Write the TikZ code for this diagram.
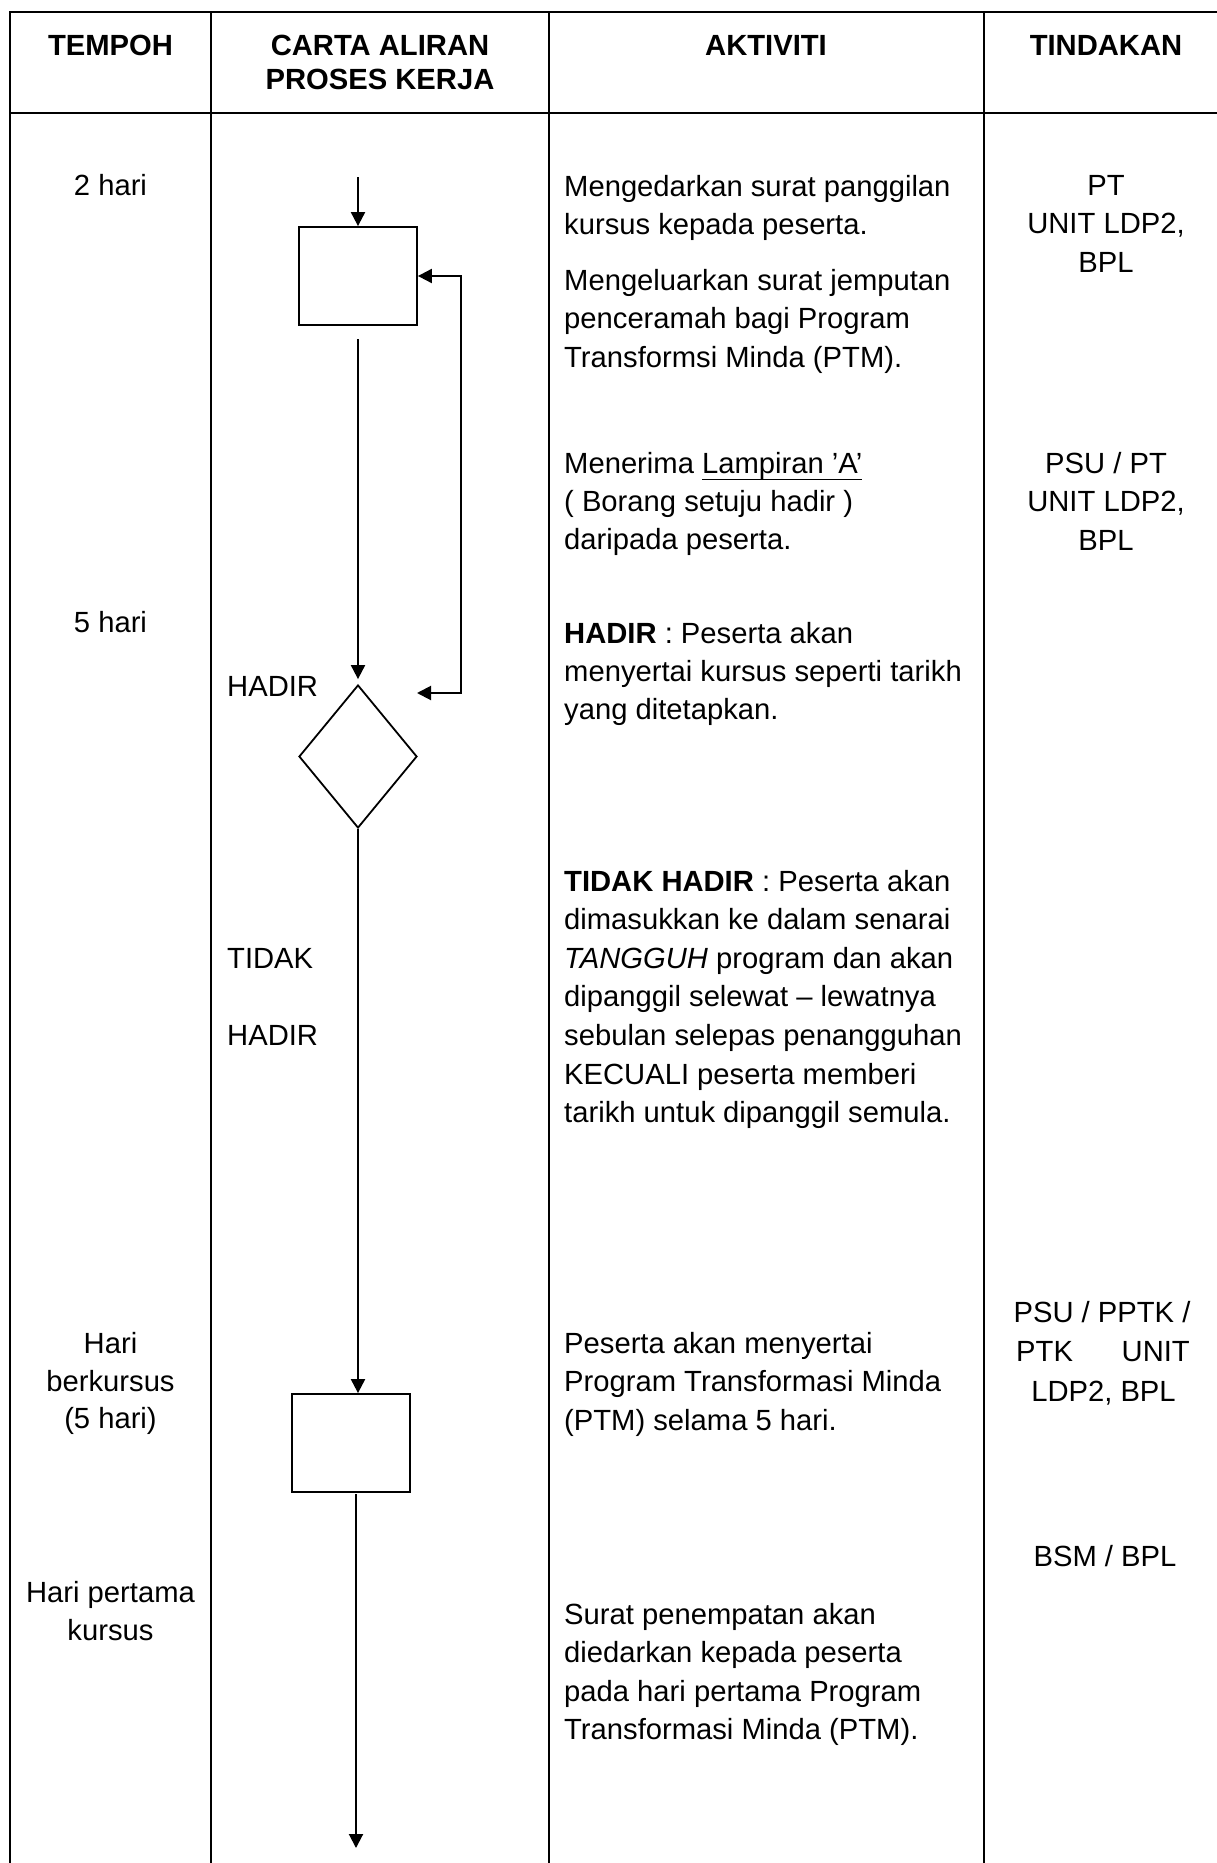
\documentclass[tikz,border=0pt]{standalone}
\usepackage{fontspec}
\setmainfont{Liberation Sans}
\usetikzlibrary{arrows.meta,shapes.geometric}
\newsavebox\myulbox
\newcommand\myul[1]{\sbox\myulbox{#1}\rlap{\rule[-7.2pt]{\wd\myulbox}{1.6pt}}\usebox\myulbox}
\tikzset{
  gridline/.style={line width=2pt},
  flow/.style={line width=2pt,-{Triangle[length=14pt,width=14pt]}},
  flowboth/.style={line width=2pt,{Triangle[length=14pt,width=14pt]}-{Triangle[length=14pt,width=14pt]}},
  stepbox/.style={draw,line width=1.8pt,rectangle,minimum width=118pt,minimum height=98pt,inner sep=0pt},
  decbox/.style={draw,line width=1.8pt,diamond,minimum width=118pt,minimum height=143pt,inner sep=0pt},
  txt/.style={inner sep=0pt,font=\fontsize{29.2}{38.6}\selectfont,anchor=base west},
  txtc/.style={txt,anchor=base},
  txte/.style={txt,anchor=base east},
  hd/.style={txtc,font=\fontsize{29.2}{33.6}\selectfont\bfseries}
}
\begin{document}
\begin{tikzpicture}[x=1pt,y=-1pt]
\useasboundingbox (0,0) rectangle (1217,1863);
% table rules
\draw[gridline] (10,1863) -- (10,12) -- (1217,12);
\draw[gridline] (10,113) -- (1217,113);
\draw[gridline] (211,12) -- (211,1863);
\draw[gridline] (549,12) -- (549,1863);
\draw[gridline] (984,12) -- (984,1863);
% header
\node[hd] (hTempoh) at (110.5,55) {TEMPOH};
\node[hd] (hCarta1) at (380,55) {CARTA ALIRAN};
\node[hd] (hCarta2) at (380,89) {PROSES KERJA};
\node[hd] (hAkt) at (766,55) {AKTIVITI};
\node[hd] (hTin) at (1106,55) {TINDAKAN};
% tempoh
\node[txtc] (tp1) at (110.5,195) {2 hari};
\node[txtc] (tp2) at (110.5,632) {5 hari};
\node[txtc] (tp3a) at (110.5,1353) {Hari};
\node[txtc] (tp3b) at (110.5,1391) {berkursus};
\node[txtc] (tp3c) at (110.5,1428) {(5 hari)};
\node[txtc] (tp4a) at (110.5,1602) {Hari pertama};
\node[txtc] (tp4b) at (110.5,1640) {kursus};
% flow chart
\node[stepbox] (box1) at (358,276) {};
\node[decbox] (dia) at (358,756.5) {};
\node[stepbox] (box2) at (351,1443) {};
\coordinate (s0) at (358,177);
\coordinate (b1out) at (358,339);
\coordinate (rtip) at (417,693);
\coordinate (rcorner) at (461,693);
\coordinate (b2out) at (356,1494);
\coordinate (endtip) at (356,1848);
\draw[flow] (s0) -- (box1.north);
\draw[flow,shorten >=5pt] (b1out) -- (dia.north);
\draw[flowboth] (rtip) -- (rcorner) |- (box1.east);
\draw[flow] (dia.south) -- (dia.south |- box2.north);
\draw[flow] (b2out) -- (endtip);
\node[txt] (lHadir) at (227,696) {HADIR};
\node[txt] (lTidak) at (227,968) {TIDAK};
\node[txt] (lHadir2) at (227,1045) {HADIR};
% aktiviti
\node[txt] (a1) at (564,196) {Mengedarkan surat panggilan};
\node[txt] (a2) at (564,234.6) {kursus kepada peserta.};
\node[txt] (a3) at (564,290) {Mengeluarkan surat jemputan};
\node[txt] (a4) at (564,328.6) {penceramah bagi Program};
\node[txt] (a5) at (564,367.2) {Transformsi Minda (PTM).};
\node[txt] (a6) at (564,473) {Menerima \myul{Lampiran ’A’}};
\node[txt] (a7) at (564,511) {( Borang setuju hadir )};
\node[txt] (a8) at (564,549) {daripada peserta.};
\node[txt] (a9) at (564,643) {\textbf{HADIR} : Peserta akan};
\node[txt] (a10) at (564,681) {menyertai kursus seperti tarikh};
\node[txt] (a11) at (564,719) {yang ditetapkan.};
\node[txt] (a12) at (564,891) {\textbf{TIDAK HADIR} : Peserta akan};
\node[txt] (a13) at (564,929.6) {dimasukkan ke dalam senarai};
\node[txt] (a14) at (564,968.2) {\textit{TANGGUH} program dan akan};
\node[txt] (a15) at (564,1006.8) {dipanggil selewat – lewatnya};
\node[txt] (a16) at (564,1045.4) {sebulan selepas penangguhan};
\node[txt] (a17) at (564,1084) {KECUALI peserta memberi};
\node[txt] (a18) at (564,1122.6) {tarikh untuk dipanggil semula.};
\node[txt] (a19) at (564,1353) {Peserta akan menyertai};
\node[txt] (a20) at (564,1391.6) {Program Transformasi Minda};
\node[txt] (a21) at (564,1430.2) {(PTM) selama 5 hari.};
\node[txt] (a22) at (564,1624) {Surat penempatan akan};
\node[txt] (a23) at (564,1662.6) {diedarkan kepada peserta};
\node[txt] (a24) at (564,1701.2) {pada hari pertama Program};
\node[txt] (a25) at (564,1739.8) {Transformasi Minda (PTM).};
% tindakan
\node[txtc] (t1) at (1106,195) {PT};
\node[txtc] (t2) at (1106,233.6) {UNIT LDP2,};
\node[txtc] (t3) at (1106,272.2) {BPL};
\node[txtc] (t4) at (1106,473) {PSU / PT};
\node[txtc] (t5) at (1106,511.6) {UNIT LDP2,};
\node[txtc] (t6) at (1106,550) {BPL};
\node[txtc] (t7) at (1102,1322) {PSU / PPTK /};
\node[txt] (t8a) at (1016,1361.5) {PTK};
\node[txte] (t8b) at (1190,1361.5) {UNIT};
\node[txtc] (t9) at (1103.5,1401) {LDP2, BPL};
\node[txtc] (t10) at (1105,1566) {BSM / BPL};
\end{tikzpicture}
\end{document}
